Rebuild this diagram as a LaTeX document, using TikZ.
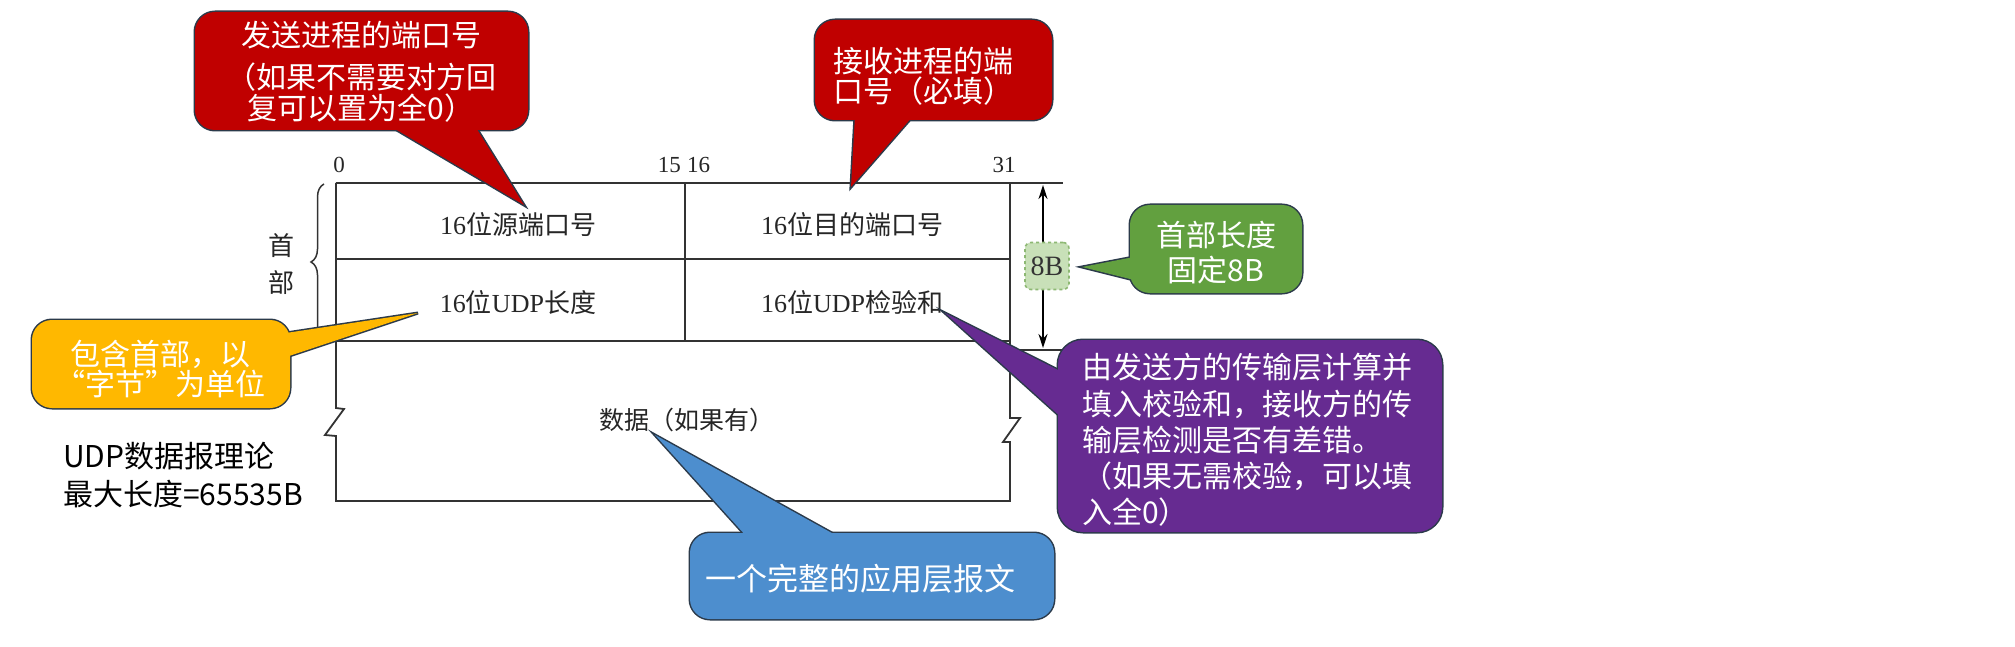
\documentclass[tikz,border=0pt]{standalone}
\usepackage{fontspec}
\setmainfont{Liberation Serif}
\newfontfamily\cjk{Noto Sans CJK SC}
\usetikzlibrary{arrows.meta,decorations.pathreplacing}
\definecolor{cred}{HTML}{C00000}
\definecolor{corange}{HTML}{FFB800}
\definecolor{cgreen}{HTML}{62A03F}
\definecolor{cpurple}{HTML}{662B91}
\definecolor{cblue}{HTML}{4D8ECE}
\definecolor{cbd}{HTML}{2B3A4A}
\definecolor{cline}{HTML}{333333}
\definecolor{lgreen}{HTML}{C8E0B8}
\definecolor{dgreen}{HTML}{8DB873}
\newcommand\zhc[1]{{\cjk #1}}
\newcommand\callshape[7]{%
  \draw[cbord, rounded corners=#2] #3 rectangle #4;
  \draw[cbord] #5 -- #6 -- #7 -- cycle;
  \fill[#1, rounded corners=#2] #3 rectangle #4;
  \fill[#1] #5 -- #6 -- #7 -- cycle;}
\begin{document}
\begin{tikzpicture}[x=1pt,y=-1pt,
  tline/.style={draw=cline, line width=1.8pt, line join=miter},
  cbord/.style={draw=cbd, line width=3pt, line join=miter},
  ctext/.style={text=white, inner sep=0pt},
  ttext/.style={text=black!85, inner sep=0pt, font=\fontsize{26}{30}\selectfont},
  numtext/.style={text=black!85, inner sep=0pt, font=\fontsize{23}{26}\selectfont}]
\useasboundingbox (0,0) rectangle (2015,647);
\fill[white] (0,0) rectangle (2015,647);

% ---------- table ----------
\draw[tline] (336,183) -- (1063,183);
\draw[tline] (336,259) -- (1010,259);
\draw[tline] (336,341) -- (1010,341);
\draw[tline] (685,183) -- (685,341);
\draw[tline] (1010,350) -- (1063,350);
\draw[tline] (336,183) -- (336,408) -- (344,409) -- (325,435) -- (336,436) -- (336,501)
  -- (1010,501) -- (1010,442) -- (1003,442) -- (1020,418) -- (1010,418) -- (1010,183);

\node[numtext] (n0) at (339,165) {0};
\node[numtext, anchor=east] (n15) at (681,165) {15};
\node[numtext, anchor=west] (n16) at (687,165) {16};
\node[numtext] (n31) at (1004,165) {31};

\node[ttext] (f1) at (518,225) {16\zhc{位源端口号}};
\node[ttext] (f2) at (852,225) {16\zhc{位目的端口号}};
\node[ttext] (f3) at (518,303) {16\zhc{位}UDP\zhc{长度}};
\node[ttext] (f4) at (852,303) {16\zhc{位}UDP\zhc{检验和}};
\node[ttext, font=\fontsize{25}{30}\selectfont\cjk] (fd) at (687,420) {数据（如果有）};

\draw[draw=cline, line width=1.5pt, decorate, decoration={brace, amplitude=13pt}] (324,340) -- (324,184);
\node[ttext, align=center, font=\fontsize{26}{37}\selectfont\cjk] (hd) at (281,264) {首\\部};

\coordinate (dt) at (1043,185);
\coordinate (db) at (1043,348);
\draw[{Stealth[length=14pt,width=9pt]}-{Stealth[length=14pt,width=9pt]}, line width=1.5pt, black] (dt) -- (db);
\node[draw=dgreen, dashed, line width=1.6pt, fill=lgreen, rounded corners=6pt,
  minimum width=44pt, minimum height=47pt, inner sep=0pt, text=black!80,
  font=\fontsize{28}{30}\selectfont] (eb) at (1047,266) {8B};

% ---------- callouts ----------
\coordinate (tipA) at (524,205);
\coordinate (tipB) at (851,187);
\coordinate (tipC) at (418,313);
\coordinate (tipD) at (1082,267);
\coordinate (tipE) at (945,313);
\coordinate (tipF) at (655,435);

\callshape{cred}{20pt}{(195,12)}{(528,130)}{(390,126)}{(tipA)}{(475,126)}
\node[ctext, align=center, font=\fontsize{30}{31}\selectfont\cjk] (ca) at (361,72)
  {发送进程的端口号\\[11pt]（如果不需要对方回\\复可以置为全0）};

\callshape{cred}{20pt}{(815,20)}{(1052,120)}{(855,116)}{(tipB)}{(913,116)}
\node[ctext, align=left, anchor=west, font=\fontsize{30}{30}\selectfont\cjk] (cb) at (833,76)
  {接收进程的端\\口号（必填）};

\callshape{corange}{20pt}{(32,320)}{(290,408)}{(286,333)}{(tipC)}{(286,357)}
\node[ctext, align=center, font=\fontsize{30}{30}\selectfont\cjk] (cc) at (160,369)
  {包含首部，以\\\makebox[1em][r]{“}字节\makebox[1em][l]{”}为单位};

\callshape{cgreen}{20pt}{(1130,205)}{(1302,293)}{(1134,257)}{(tipD)}{(1134,280)}
\node[ctext, align=center, font=\fontsize{30}{35}\selectfont\cjk] (cd) at (1216,253)
  {首部长度\\固定8B};

\callshape{cpurple}{25pt}{(1058,340)}{(1442,532)}{(1062,372)}{(tipE)}{(1062,418)}
\node[ctext, align=left, anchor=west, font=\fontsize{30}{36.2}\selectfont\cjk] (ce) at (1082,440)
  {由发送方的传输层计算并\\填入校验和，接收方的传\\输层检测是否有差错。\\（如果无需校验，可以填\\入全0）};

\callshape{cblue}{20pt}{(690,533)}{(1054,619)}{(747,537)}{(tipF)}{(839,537)}
\node[ctext, font=\fontsize{31}{31}\selectfont\cjk] (cf) at (860,579) {一个完整的应用层报文};

% ---------- note ----------
\node[inner sep=0pt, align=left, anchor=west, text=black, font=\fontsize{30}{38}\selectfont\cjk] (note) at (63,475)
  {UDP数据报理论\\最大长度=65535B};
\end{tikzpicture}
\end{document}
